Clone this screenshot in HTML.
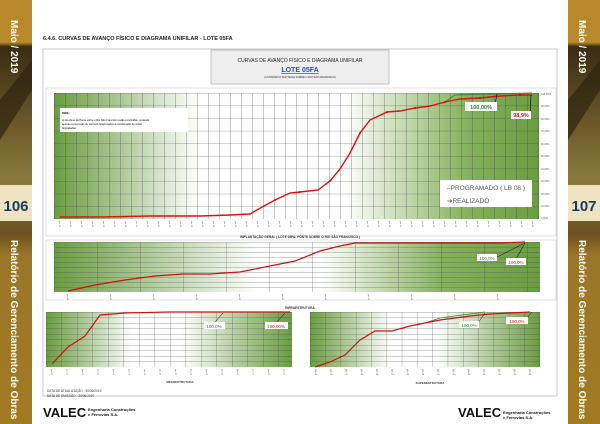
<!DOCTYPE html>
<html><head><meta charset="utf-8"><style>
html,body{margin:0;padding:0;background:#fff;width:600px;height:424px;overflow:hidden}
svg text{font-family:"Liberation Sans",sans-serif}
</style></head><body>
<svg width="600" height="424" viewBox="0 0 600 424" xmlns="http://www.w3.org/2000/svg">
<defs>
<linearGradient id="gm" x1="0" x2="1"><stop offset="0" stop-color="#6a9c42"/><stop offset="0.3" stop-color="#ffffff"/><stop offset="0.6" stop-color="#ffffff"/><stop offset="0.85" stop-color="#86b25e"/><stop offset="1" stop-color="#6a9c42"/></linearGradient>
<linearGradient id="g2" x1="0" x2="1"><stop offset="0" stop-color="#6a9c42"/><stop offset="0.42" stop-color="#ffffff"/><stop offset="0.55" stop-color="#ffffff"/><stop offset="0.8" stop-color="#86b25e"/><stop offset="1" stop-color="#6a9c42"/></linearGradient>
<linearGradient id="g3" x1="0" x2="1"><stop offset="0" stop-color="#6a9c42"/><stop offset="0.35" stop-color="#ffffff"/><stop offset="0.55" stop-color="#ffffff"/><stop offset="1" stop-color="#6a9c42"/></linearGradient>
<linearGradient id="sbL" x1="0" y1="0" x2="0" y2="1"><stop offset="0" stop-color="#b8892c"/><stop offset="0.1" stop-color="#b8892c"/><stop offset="0.11" stop-color="#3a2c14"/><stop offset="0.3" stop-color="#6e5a2a"/><stop offset="0.42" stop-color="#8a7a3c"/><stop offset="0.55" stop-color="#6a5020"/><stop offset="0.6" stop-color="#9a7628"/><stop offset="1" stop-color="#a27a22"/></linearGradient>
<pattern id="pm" x="54" y="93" width="11" height="12.6" patternUnits="userSpaceOnUse"><path d="M0 0V12.6M0 0H11" stroke="#444" stroke-width="0.6" fill="none"/></pattern>
<pattern id="p2" x="54" y="242" width="43" height="5" patternUnits="userSpaceOnUse"><path d="M0 0V5M0 0H43" stroke="#444" stroke-width="0.5" fill="none"/></pattern>
<pattern id="p3" x="46" y="312" width="15.5" height="5.5" patternUnits="userSpaceOnUse"><path d="M0 0V5.5M0 0H15.5" stroke="#444" stroke-width="0.5" fill="none"/></pattern>
<pattern id="p4" x="310" y="312" width="15.3" height="5.5" patternUnits="userSpaceOnUse"><path d="M0 0V5.5M0 0H15.3" stroke="#444" stroke-width="0.5" fill="none"/></pattern>
<pattern id="tk1" x="56" y="221" width="11" height="10" patternUnits="userSpaceOnUse"><text transform="translate(3,0) rotate(90)" font-size="2.2" fill="#666">jan-15</text></pattern>
<pattern id="tk2" x="64" y="294" width="43" height="10" patternUnits="userSpaceOnUse"><text transform="translate(3,0) rotate(90)" font-size="2.2" fill="#666">jan-15</text></pattern>
<pattern id="tk3" x="48" y="369" width="15.5" height="10" patternUnits="userSpaceOnUse"><text transform="translate(3,0) rotate(90)" font-size="2.2" fill="#666">jan-15</text></pattern>
<pattern id="tk4" x="312" y="369" width="15.3" height="10" patternUnits="userSpaceOnUse"><text transform="translate(3,0) rotate(90)" font-size="2.2" fill="#666">jan-15</text></pattern>
</defs>
<rect x="0" y="0" width="32" height="424" fill="url(#sbL)"/>
<polygon points="0,100 32,60 32,90 0,140" fill="#2e2410" opacity="0.7"/>
<rect x="0" y="185" width="32" height="36" fill="#efe3c0"/>
<text x="16" y="211" font-size="15" font-weight="bold" fill="#173a63" text-anchor="middle">106</text>
<rect x="568" y="0" width="32" height="424" fill="url(#sbL)"/>
<polygon points="568,100 600,60 600,90 568,140" fill="#2e2410" opacity="0.7"/>
<rect x="568" y="185" width="32" height="36" fill="#efe3c0"/>
<text x="584" y="211" font-size="15" font-weight="bold" fill="#173a63" text-anchor="middle">107</text>
<text transform="translate(11,20) rotate(90)" font-size="10" font-weight="bold" fill="#fff">Maio / 2019</text>
<text transform="translate(579,20) rotate(90)" font-size="10" font-weight="bold" fill="#fff">Maio / 2019</text>
<text transform="translate(11,240) rotate(90)" font-size="10" font-weight="bold" fill="#fff">Relatório de Gerenciamento de Obras</text>
<text transform="translate(579,240) rotate(90)" font-size="10" font-weight="bold" fill="#fff">Relatório de Gerenciamento de Obras</text>
<text x="43" y="40" font-size="5.5" font-weight="bold" fill="#222">6.4.6.   CURVAS DE AVANÇO FÍSICO E DIAGRAMA UNIFILAR - LOTE 05FA</text>
<rect x="43" y="49" width="514" height="347" fill="#fff" stroke="#bbb" stroke-width="0.8"/>
<rect x="211" y="50" width="178" height="34" fill="#efefef" stroke="#999" stroke-width="0.6"/>
<text x="300" y="62" font-size="5" text-anchor="middle" fill="#222">CURVAS DE AVANÇO FÍSICO E DIAGRAMA UNIFILAR</text>
<text x="300" y="72" font-size="7" font-weight="bold" text-anchor="middle" fill="#1f4fbf" text-decoration="underline">LOTE 05FA</text>
<text x="300" y="78" font-size="2.6" text-anchor="middle" fill="#222">(CONSÓRCIO SOCTECIA SOBRE O RIO SÃO FRANCISCO)</text>
<rect x="46" y="88" width="510" height="148" fill="#fff" stroke="#ccc" stroke-width="0.6"/>
<rect x="54" y="93" width="485" height="126" fill="url(#gm)"/>
<rect x="54" y="93" width="485" height="126" fill="url(#pm)"/>
<rect x="54" y="221" width="485" height="10" fill="url(#tk1)"/>
<g font-size="2.5" fill="#555"><text x="541" y="95">100,00%</text><text x="541" y="107">90,00%</text><text x="541" y="120">80,00%</text><text x="541" y="132">70,00%</text><text x="541" y="145">60,00%</text><text x="541" y="157">50,00%</text><text x="541" y="170">40,00%</text><text x="541" y="182">30,00%</text><text x="541" y="195">20,00%</text><text x="541" y="207">10,00%</text><text x="541" y="219">0,00%</text></g>
<rect x="60" y="108" width="128" height="24" fill="#fff"/>
<text x="62" y="114" font-size="3" font-weight="bold">OBS.:</text>
<text x="62" y="121" font-size="2.6">a) As obras da Ponte sobre o Rio São Francisco estão concluídas, restando</text>
<text x="62" y="125" font-size="2.6">apenas a execução de serviços relacionados à recuperação de áreas</text>
<text x="62" y="129" font-size="2.6">degradadas.</text>
<polyline fill="none" stroke="#2e8b2e" stroke-width="0.9" points="415,108 430,106 445,102 455,95 532,93"/>
<polyline fill="none" stroke="#d11" stroke-width="1.4" stroke-dasharray="none" points="60,217 100,217 150,216 200,216 230,215 250,214 262,207 275,200 290,193 300,192 318,190 330,181 340,169 350,153 360,133 370,120 387,112 400,111 415,108 430,106 445,102 460,99 480,98 500,96 520,95 532,95"/>
<g fill="#b00"><circle cx="275" cy="200" r="0.9"/><circle cx="300" cy="192" r="0.9"/><circle cx="330" cy="181" r="0.9"/><circle cx="360" cy="133" r="0.9"/><circle cx="387" cy="112" r="0.9"/><circle cx="415" cy="108" r="0.9"/><circle cx="445" cy="102" r="0.9"/><circle cx="480" cy="98" r="0.9"/><circle cx="520" cy="95" r="0.9"/></g>
<line x1="495" y1="104" x2="497" y2="94" stroke="#000" stroke-width="0.6"/>
<line x1="530" y1="116" x2="531" y2="95" stroke="#000" stroke-width="0.6"/>
<rect x="465" y="102" width="32" height="9" fill="#fff"/><text x="481" y="109" font-size="5.5" font-weight="bold" fill="#2e7a2e" text-anchor="middle">100,00%</text>
<rect x="511" y="111" width="20" height="8" fill="#fff"/><text x="521" y="117" font-size="5.5" font-weight="bold" fill="#d11" text-anchor="middle">98,9%</text>
<rect x="440" y="180" width="92" height="27" fill="#fff"/>
<text x="447" y="190" font-size="6.5" fill="#555">–PROGRAMADO ( LB 08 )</text>
<text x="447" y="203" font-size="6.5" fill="#555"><tspan fill="#d11">➔</tspan>REALIZADO</text>
<text x="300" y="238" font-size="3.2" font-weight="bold" text-anchor="middle" fill="#333">IMPLANTAÇÃO GERAL  ( LOTE 05FA: PONTE SOBRE O RIO SÃO FRANCISCO )</text>
<rect x="46" y="240" width="510" height="60" fill="#fff" stroke="#ccc" stroke-width="0.6"/>
<rect x="54" y="242" width="486" height="50" fill="url(#g2)"/>
<rect x="54" y="242" width="486" height="50" fill="url(#p2)"/>
<rect x="54" y="294" width="486" height="6" fill="url(#tk2)"/>
<polyline fill="none" stroke="#c11" stroke-width="1.2" points="68,291 95,285 125,280 155,276 183,274 210,274 240,272 270,266 295,261 320,251 340,246 355,243 380,243 440,243 500,243 525,242"/>
<line x1="497" y1="257" x2="525" y2="243" stroke="#000" stroke-width="0.5"/>
<line x1="516" y1="259" x2="525" y2="243" stroke="#000" stroke-width="0.5"/>
<rect x="477" y="254" width="20" height="7" fill="#fff"/><text x="487" y="260" font-size="4.5" fill="#2e7a2e" text-anchor="middle">100,0%</text>
<rect x="506" y="258" width="20" height="7" fill="#fff"/><text x="516" y="264" font-size="4.5" fill="#d11" text-anchor="middle">100,0%</text>
<text x="300" y="309" font-size="3.2" font-weight="bold" text-anchor="middle" fill="#333">INFRAESTRUTURA</text>
<rect x="46" y="312" width="246" height="55" fill="url(#g3)"/>
<rect x="46" y="312" width="246" height="55" fill="url(#p3)"/>
<rect x="46" y="369" width="246" height="10" fill="url(#tk3)"/>
<polyline fill="none" stroke="#c11" stroke-width="1.2" points="52,364 68,347 85,336 100,315 125,313 170,312 290,312"/>
<line x1="214" y1="323" x2="223" y2="313" stroke="#000" stroke-width="0.5"/>
<line x1="276" y1="323" x2="285" y2="313" stroke="#000" stroke-width="0.5"/>
<rect x="204" y="322" width="21" height="7" fill="#fff"/><text x="214" y="328" font-size="4.5" fill="#2e7a2e" text-anchor="middle">100,0%</text>
<rect x="265" y="322" width="23" height="7" fill="#fff"/><text x="276" y="328" font-size="4.5" fill="#d11" text-anchor="middle">100,00%</text>
<text x="180" y="383" font-size="3" font-weight="bold" text-anchor="middle" fill="#333">MESOESTRUTURA</text>
<rect x="310" y="312" width="230" height="55" fill="url(#g3)"/>
<rect x="310" y="312" width="230" height="55" fill="url(#p4)"/>
<rect x="310" y="369" width="230" height="10" fill="url(#tk4)"/>
<polyline fill="none" stroke="#2e8b2e" stroke-width="0.8" points="425,323 440,318 455,316 470,314 485,312"/>
<polyline fill="none" stroke="#c11" stroke-width="1.2" points="315,367 330,362 345,355 360,340 375,331 392,331 410,326 425,323 440,320 455,318 470,316 490,314 530,312"/>
<line x1="478" y1="323" x2="485" y2="313" stroke="#000" stroke-width="0.5"/>
<line x1="526" y1="319" x2="532" y2="312" stroke="#000" stroke-width="0.5"/>
<rect x="459" y="321" width="20" height="7" fill="#fff"/><text x="469" y="327" font-size="4.5" fill="#2e7a2e" text-anchor="middle">100,0%</text>
<rect x="506" y="317" width="22" height="7" fill="#fff"/><text x="517" y="323" font-size="4.5" fill="#d11" text-anchor="middle">100,0%</text>
<text x="430" y="384" font-size="3" font-weight="bold" text-anchor="middle" fill="#333">SUPERESTRUTURA</text>
<text x="47" y="392" font-size="3.2" fill="#333">DATA DE ATUALIZAÇÃO    :  30/06/2019</text>
<text x="47" y="397" font-size="3.2" fill="#333">DATA DE EMISSÃO          :  30/06/2019</text>
<text x="43" y="417" font-size="13" font-weight="bold" fill="#111">VALEC</text>
<text x="88" y="411" font-size="4" font-weight="bold" fill="#111">Engenharia Construções</text>
<text x="88" y="416" font-size="4" font-weight="bold" fill="#111">e Ferrovias S.A.</text>
<text x="458" y="417" font-size="13" font-weight="bold" fill="#111">VALEC</text>
<text x="503" y="414" font-size="4" font-weight="bold" fill="#111">Engenharia Construções</text>
<text x="503" y="419" font-size="4" font-weight="bold" fill="#111">e Ferrovias S.A.</text>
</svg>
</body></html>
